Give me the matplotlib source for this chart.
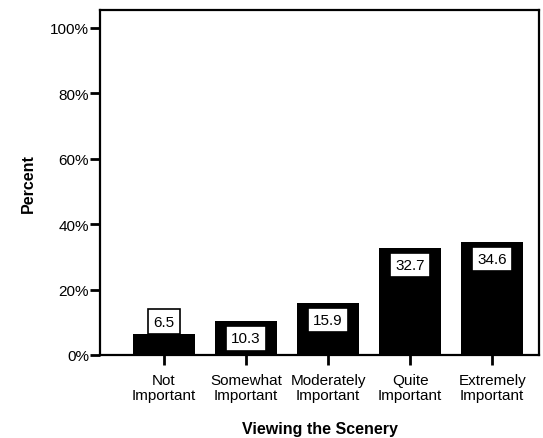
import matplotlib
matplotlib.use("Agg")
import matplotlib.pyplot as plt
from matplotlib.ticker import FuncFormatter

plt.rcParams['font.family'] = ['Liberation Sans', 'DejaVu Sans']

# data
categories = ["Not\nImportant", "Somewhat\nImportant", "Moderately\nImportant",
              "Quite\nImportant", "Extremely\nImportant"]
percents = [6.5, 10.3, 15.9, 32.7, 34.6]
y_ticks = [0, 20, 40, 60, 80, 100]

fig = plt.figure(figsize=(5.43, 4.39), dpi=100)
ax = fig.add_axes([100 / 543, 1 - 356 / 439, 439 / 543, 345 / 439])

x = range(len(categories))
bars = ax.bar(x, percents, width=0.76, color="black")

for b, v in zip(bars, percents):
    cx = b.get_x() + b.get_width() / 2
    h = b.get_height()
    if h < 10:
        off, va = 5, "bottom"
    else:
        off, va = -10, "top"
    ax.annotate(f"{v:.1f}", (cx, h), xytext=(0, off), textcoords="offset pixels",
                ha="center", va=va, fontsize=11,
                bbox=dict(boxstyle="square,pad=0.35", fc="white", ec="black", lw=1.2))

ax.set_xlim(-0.78, 4.57)
ax.set_ylim(0, 105.5)
ax.set_yticks(y_ticks)
ax.yaxis.set_major_formatter(FuncFormatter(lambda v, p: f"{v:.0f}%"))
ax.set_xticks(list(x))
ax.set_xticklabels(categories, fontsize=11, linespacing=1.05)
ax.tick_params(axis="y", labelsize=11, length=7, width=2, direction="out", pad=1)
ax.tick_params(axis="x", length=7, width=2, direction="out", pad=6)

for s in ax.spines.values():
    s.set_linewidth(1.6)

ax.set_ylabel("Percent", fontsize=11.5, fontweight="bold", labelpad=10)
ax.set_xlabel("Viewing the Scenery", fontsize=11.5, fontweight="bold", labelpad=14)

fig.savefig("out.png", dpi=100)
